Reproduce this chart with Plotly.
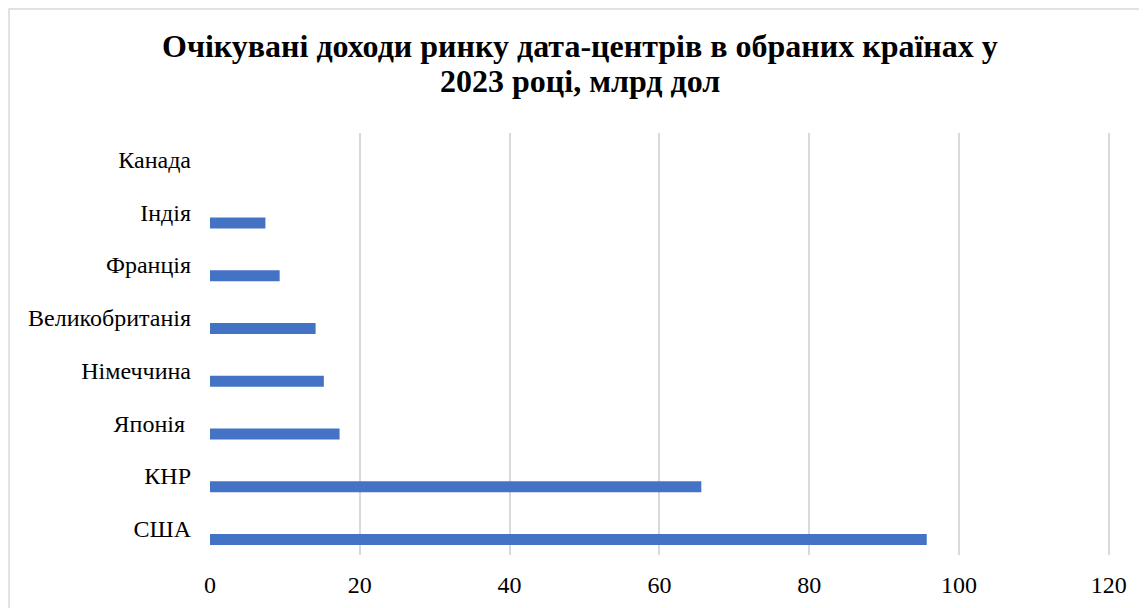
import plotly.graph_objects as go

# data, bottom to top as in the chart
countries = ["США", "КНР", "Японія\u00a0", "Німеччина", "Великобританія", "Франція", "Індія", "Канада"]
revenue = [95.7, 65.6, 17.3, 15.2, 14.1, 9.3, 7.4, 0]
x_ticks = [0, 20, 40, 60, 80, 100, 120]
title_lines = [
    "Очікувані доходи ринку дата-центрів в обраних країнах у",
    "2023 році, млрд дол",
]

W, H = 1147, 608
PAGE = 8  # page body margin, positions below are in screen pixels
X_MAX = 120.3  # a bit past 120 so the last gridline is drawn
L, T = 210 - PAGE, 133 - PAGE
plot_w = (1109 - 210) * X_MAX / 120
R = W - L - plot_w
B = H - (555 - PAGE)
plot_h = H - T - B


def py(p):
    # screen row -> paper y
    return (H - B - (p - PAGE)) / plot_h


def px(p):
    return (p - PAGE - L) / plot_w


FONT = "Liberation Serif, Times New Roman, serif"

fig = go.Figure(
    go.Bar(
        y=countries,
        x=revenue,
        orientation="h",
        marker=dict(color="#4472C4", line=dict(width=0)),
        width=0.21,
        offset=-0.31,
        hoverinfo="x+y",
    )
)

fig.update_layout(
    width=W,
    height=H,
    margin=dict(l=L, r=R, t=T, b=B),
    paper_bgcolor="white",
    plot_bgcolor="white",
    font=dict(family=FONT, color="#000000", size=24),
    showlegend=False,
    shapes=[
        dict(
            type="rect", xref="paper", yref="paper",
            x0=px(9), x1=px(W + 40), y0=py(9), y1=py(H + 40),
            line=dict(color="#D9D9D9", width=1.5), fillcolor="rgba(0,0,0,0)",
            layer="below",
        )
    ],
    annotations=[
        dict(text="<b>%s</b>" % title_lines[0], xref="paper", yref="paper",
             x=px(580), y=py(46), xanchor="center", yanchor="middle",
             showarrow=False, font=dict(size=32, family=FONT)),
        dict(text="<b>%s</b>" % title_lines[1], xref="paper", yref="paper",
             x=px(580), y=py(81), xanchor="center", yanchor="middle",
             showarrow=False, font=dict(size=32, family=FONT)),
    ],
)

fig.update_xaxes(
    range=[0, X_MAX],
    tickvals=x_ticks,
    showgrid=True,
    gridcolor="#D9D9D9",
    gridwidth=1.5,
    zeroline=False,
    showline=False,
    ticks="",
    ticklabelstandoff=13,
    tickfont=dict(size=24),
    fixedrange=True,
)
fig.update_yaxes(
    type="category",
    categoryorder="array",
    categoryarray=countries,
    range=[-0.5, len(countries) - 0.5],
    showgrid=False,
    zeroline=False,
    showline=False,
    ticks="",
    ticklabelstandoff=18,
    tickfont=dict(size=24),
    fixedrange=True,
)

fig.write_html("out.html")
